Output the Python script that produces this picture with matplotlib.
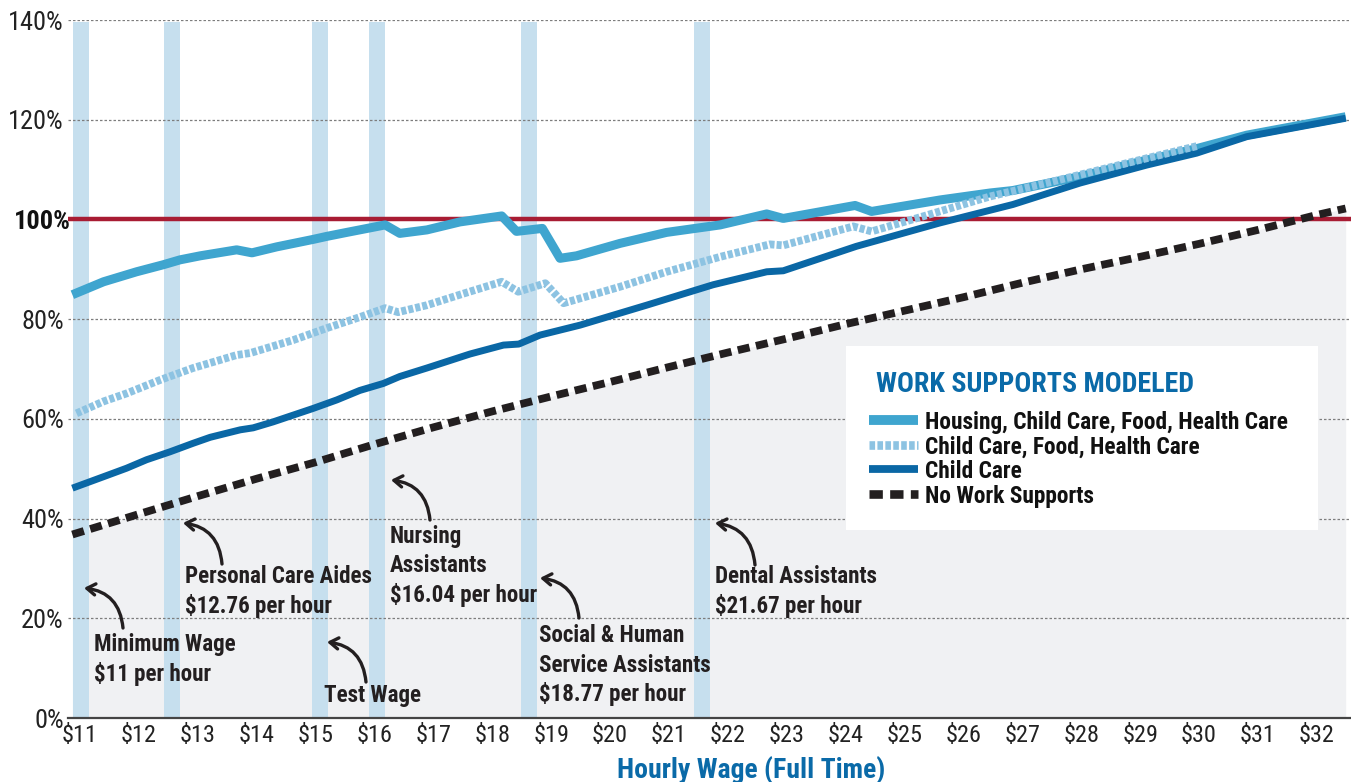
import matplotlib
matplotlib.use('Agg')
import matplotlib.pyplot as plt
from matplotlib.lines import Line2D
from matplotlib.patches import Rectangle
from matplotlib.transforms import ScaledTranslation

plt.rcParams['font.family'] = ['Roboto Condensed', 'Liberation Sans Narrow', 'DejaVu Sans']

# ---------------- data ----------------
housing_wage = [10.87, 11.40, 11.68, 11.96, 12.41, 12.70, 13.04, 13.66, 13.92, 14.34,
                14.96, 15.19, 15.53, 16.18, 16.43, 16.89, 17.45, 18.16, 18.41, 18.85,
                19.15, 19.43, 20.17, 20.96, 21.87, 22.66, 22.94, 24.16, 24.44, 25.60,
                26.45, 26.84, 27.98, 29.11, 29.96, 30.81, 32.49]
housing_pct = [84.9, 87.5, 88.5, 89.5, 90.9, 91.9, 92.7, 93.9, 93.3, 94.5,
               96.0, 96.6, 97.4, 98.9, 97.2, 97.9, 99.5, 100.7, 97.6, 98.2,
               92.2, 92.7, 95.2, 97.4, 98.9, 101.1, 100.2, 102.8, 101.6, 103.9,
               105.3, 105.8, 108.6, 111.9, 114.2, 116.9, 120.6]

ccfh_wage = [10.94, 11.40, 11.79, 12.36, 12.92, 13.66, 13.89, 14.62, 15.19, 15.75,
             16.18, 16.40, 16.89, 17.45, 18.16, 18.44, 18.90, 19.21, 20.17, 20.96,
             21.87, 22.71, 22.94, 24.13, 24.44, 25.31, 26.45, 27.41, 28.88, 29.96]
ccfh_pct = [61.1, 63.5, 65.1, 67.8, 70.2, 72.8, 73.2, 75.8, 78.2, 80.4,
            82.2, 81.4, 82.8, 84.9, 87.5, 85.5, 87.2, 83.2, 86.5, 89.5,
            92.5, 95.0, 94.8, 98.6, 97.6, 100.6, 104.6, 107.3, 111.6, 114.7]

child_wage = [10.87, 11.40, 11.79, 12.13, 12.53, 12.92, 13.21, 13.72, 13.94, 14.28,
              14.96, 15.36, 15.75, 16.15, 16.43, 16.89, 17.62, 18.19, 18.45, 18.81,
              19.49, 20.62, 21.75, 22.66, 22.94, 24.18, 25.60, 26.84, 27.98, 29.11,
              29.96, 30.81, 32.49]
child_pct = [46.1, 48.4, 50.1, 51.8, 53.4, 55.1, 56.3, 57.8, 58.2, 59.4,
             62.1, 63.8, 65.7, 67.1, 68.5, 70.2, 73.0, 74.8, 75.0, 76.8,
             78.8, 82.8, 86.9, 89.5, 89.7, 94.6, 99.3, 103.0, 107.3, 110.9,
             113.3, 116.6, 120.3]

none_wage = [10.87, 12, 13, 14, 15, 16, 17, 18, 19, 20, 21, 22, 23, 24, 25, 26,
             27, 28, 29, 30, 31, 32, 32.49]
none_pct = [36.8, 40.9, 44.5, 48.0, 51.3, 54.9, 58.3, 61.5, 64.5, 67.4, 70.4, 73.3,
            76.1, 79.0, 81.7, 84.4, 87.3, 90.0, 92.5, 95.1, 97.9, 100.9, 102.2]

series_labels = ['Housing, Child Care, Food, Health Care',
                 'Child Care, Food, Health Care',
                 'Child Care',
                 'No Work Supports']
legend_title = 'WORK SUPPORTS MODELED'

band_wages = [11.02, 12.56, 15.07, 16.05, 18.63, 21.56]

x_ticks = list(range(11, 33))
x_tick_labels = ['$%d' % v for v in x_ticks]
y_ticks = [0, 20, 40, 60, 80, 100, 120, 140]
y_tick_labels = ['%d%%' % v for v in y_ticks]
threshold = 100

annotation_texts = [
    ['Minimum Wage', '$11 per hour'],
    ['Personal Care Aides', '$12.76 per hour'],
    ['Nursing', 'Assistants', '$16.04 per hour'],
    ['Test Wage'],
    ['Social & Human', 'Service Assistants', '$18.77 per hour'],
    ['Dental Assistants', '$21.67 per hour'],
]
x_label = 'Hourly Wage (Full Time)'

# ---------------- layout (pixels in the 1351x782 canvas) ----------------
W, H = 1351, 782
def P(x, y):
    return (x / W, 1 - y / H)

# text left, first baseline ; arrow head ; arrow tail
annotation_layout = [
    ((94, 651), (84, 588), (123, 628)),
    ((185, 583), (183, 523), (222, 564)),
    ((390, 543), (391, 480), (430, 520)),
    ((324, 702), (327, 642), (366, 682)),
    ((539, 642), (540, 578), (579, 618)),
    ((715, 583), (715, 523), (755, 565)),
]
LINE_STEP = 29.5

BLUE_T = '#0a6aa8'
INK = '#231f20'

fig = plt.figure(figsize=(13.51, 7.82), dpi=100)
ax = fig.add_axes([68 / W, 64 / H, 1283 / W, 698 / H])
ax.set_xlim(10.796, 32.58)
ax.set_ylim(0, 140)

# gray area under "no work supports"
ax.fill_between(none_wage, 0, none_pct, color='#f0f1f3', lw=0, zorder=0.5)

# job bands
for b in band_wages:
    ax.axvspan(b - 0.135, b + 0.135, ymin=0, ymax=0.997, color='#c6dfee', lw=0, zorder=1)

# grid
for t in y_ticks:
    if t in (0, threshold):
        continue
    ax.axhline(t, color='#7d7d7d', lw=0.9, ls=(0, (2, 1.6)), zorder=1.5)

ax.axhline(threshold, color='#a81c33', lw=3.2, zorder=2)

styles = [
    dict(color='#3fa5cf', lw=6.5, solid_joinstyle='round', solid_capstyle='butt'),
    dict(color='#8dc3e2', lw=5.6, dashes=(0.65, 0.27), dash_capstyle='butt'),
    dict(color='#0a67a5', lw=5.0, solid_joinstyle='round', solid_capstyle='butt'),
    dict(color=INK, lw=5.6, dashes=(1.55, 0.85), dash_capstyle='butt'),
]
ax.plot(none_wage, none_pct, zorder=3, **styles[3])
ax.plot(child_wage, child_pct, zorder=4, **styles[2])
ax.plot(ccfh_wage, ccfh_pct, zorder=4.5, **styles[1])
ax.plot(housing_wage, housing_pct, zorder=3.5, **styles[0])

# axes styling
for s in ['top', 'right', 'left']:
    ax.spines[s].set_visible(False)
ax.spines['bottom'].set_color('#444444')
ax.spines['bottom'].set_linewidth(1.6)
ax.spines['bottom'].set_zorder(5)
ax.set_xticks(x_ticks)
ax.set_xticklabels(x_tick_labels, fontsize=17.5, color='#222222')
ax.set_yticks(y_ticks)
ax.set_yticklabels(y_tick_labels, fontsize=19, color='#222222')
ax.tick_params(axis='both', length=0)
ax.tick_params(axis='x', pad=4)
ax.tick_params(axis='y', pad=3)
for lab in ax.get_yticklabels():
    if lab.get_text() == '%d%%' % threshold:
        lab.set_fontweight('bold')
        lab.set_color('#111111')
        lab.set_transform(lab.get_transform() + ScaledTranslation(7 / 100, 0, fig.dpi_scale_trans))

# annotations
for lines, (txt, head, tail) in zip(annotation_texts, annotation_layout):
    for i, line in enumerate(lines):
        fig.text(*P(txt[0], txt[1] + i * LINE_STEP), line, fontsize=16.6, fontweight='bold',
                 color=INK, ha='left', va='baseline', zorder=6)
    ax.annotate('', xy=P(*head), xytext=P(*tail), xycoords='figure fraction',
                textcoords='figure fraction',
                arrowprops=dict(arrowstyle='->,head_length=0.6,head_width=0.4', lw=2.4,
                                color=INK, connectionstyle='arc3,rad=0.4',
                                shrinkA=0, shrinkB=0), zorder=6)

# legend (drawn box)
x0, y0 = P(846, 530)
x1, y1 = P(1318, 346)
fig.patches.append(Rectangle((x0, y0), x1 - x0, y1 - y0, transform=fig.transFigure,
                             facecolor='white', edgecolor='none', zorder=5))
fig.text(*P(876, 392), legend_title, fontsize=20.2, fontweight='bold', color=BLUE_T,
         ha='left', va='baseline', zorder=7)
row_y = [420, 445, 469, 494]
for lab, st, ry in zip(series_labels, styles, row_y):
    xa, ya = P(869, ry)
    xb, _ = P(918, ry)
    st2 = dict(st)
    st2['lw'] = st['lw'] + 0.6
    fig.add_artist(Line2D([xa, xb], [ya, ya], transform=fig.transFigure, zorder=7, **st2))
    fig.text(*P(925, ry), lab, fontsize=16.8, fontweight='bold', color='#111111',
             ha='left', va='center_baseline', zorder=7)

fig.text(*P(751, 770), x_label, fontsize=20, fontweight='bold', color=BLUE_T,
         ha='center', va='center')

fig.savefig('out.png', dpi=100)
